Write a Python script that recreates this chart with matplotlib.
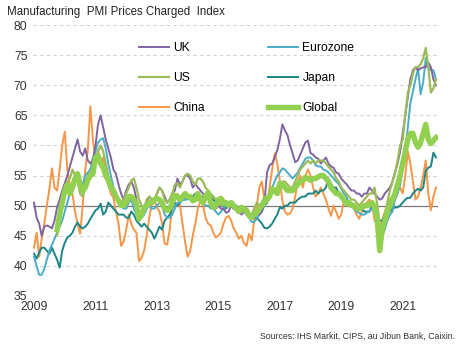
import numpy as np
import matplotlib
matplotlib.use('Agg')
import matplotlib.pyplot as plt

plt.rcParams['font.family'] = ['Liberation Sans', 'DejaVu Sans']

nan = np.nan

# monthly values, Jan 2009 .. Feb 2022
uk = [50.5, 48, 47, 45, 46.5, 46.7, 46.5, 46.2, 47.5, 49.7, 51, 52.5,
      53.7, 55, 56.5, 58, 59.5, 61, 59, 58.3, 59.5, 57.5, 57, 57.5,
      60, 63.5, 65, 63, 61, 59.5, 58, 56, 55.3, 53.5, 52, 51,
      52.5, 53.5, 54, 53, 51, 49, 48.5, 49, 50.5, 51.5, 51, 51,
      52, 53, 52.5, 51.5, 50.5, 51, 52, 52.5, 54.5, 53.5, 54, 55,
      55, 54.5, 53, 53.6, 53, 52.5, 52, 51.5, 51.3, 50.5, 49.5, 49.5,
      50, 49.5, 49.5, 48.8, 49, 50, 49.5, 50, 49.5, 48.5, 49, 49,
      48.5, 48, 48, 48.5, 48.5, 49, 50.5, 55.5, 56.7, 57, 58, 59.2,
      61, 63.5, 62.5, 61.7, 60, 58.7, 57.2, 57.5, 58.5, 59.5, 60.5, 60.8,
      58.7, 58.5, 58, 57.8, 57, 57.5, 58, 57, 56.5, 56.3, 55.5, 55.3,
      54.5, 54, 53.6, 53, 52.5, 52.5, 52, 52, 51.5, 52, 52, 53,
      52.5, 52, 51.5, 51, 51.2, 52, 52.5, 53, 54, 55.5, 57, 59,
      62, 65, 68, 71, 72.5, 73, 72.5, 72.8, 73, 73, 73.8, 73,
      71, 70]

eurozone = [41.5, 40, 38.5, 38.5, 39.5, 41, 42.5, 43.5, 44.5, 45.5, 46.5, 47.5,
            49, 50.5, 52, 53.7, 54.5, 55.3, 54, 53.5, 55, 55.5, 56, 58,
            59, 60.5, 61, 61.2, 59.5, 57, 55, 53, 52, 50.5, 50, 49.5,
            49.5, 50.5, 51, 49.5, 48.5, 47.5, 48, 48.5, 49.5, 50, 49.5, 49.5,
            50, 50.5, 50, 48.5, 48, 48, 48.5, 49.5, 50.5, 50.5, 51, 51,
            51, 51.5, 51, 51.5, 51, 51, 50.5, 50, 50, 49.5, 49.5, 49,
            48.5, 49, 49.5, 50.5, 50.5, 50, 49.5, 49.5, 49.5, 49, 49, 48.5,
            48, 47.3, 47.3, 47.8, 48.5, 49, 50, 50.5, 52, 53, 54, 55,
            55.5, 56.2, 56, 55.5, 55, 54.5, 55, 55.5, 56.3, 57, 57.8, 58,
            58, 57.5, 56.7, 56.5, 56.5, 56, 55.8, 55.5, 55, 54.5, 54, 53.6,
            52.8, 52, 51.5, 50.5, 50, 49.5, 49, 48.8, 48.5, 48.5, 48.8, 49,
            49.5, 49, 47.5, 45.5, 45, 46, 47.5, 48.5, 49, 51, 52, 53.5,
            56, 59, 63, 67, 69, 71, 72.8, 68.5, 70.5, 74.5, 73, 72.5,
            72.5, 71]

us = [nan, nan, nan, nan, nan, nan, nan, nan, nan, 45, 48, 51,
      53, 54, 54.5, 56, 55, 54, 52, 51.5, 53, 55, 55.5, 56,
      57, 59, 60, 59, 57, 55, 53.5, 52.5, 51.5, 51, 50.5, 51,
      52, 53, 54.2, 54.5, 53, 51, 50, 49.5, 51, 51.5, 51, 51,
      52, 53, 52.5, 51, 50.5, 51, 52, 53.5, 53.7, 53, 54, 55,
      55.3, 55, 54, 53.5, 54.5, 54.5, 54, 53, 52.5, 52, 51.5, 51,
      50.5, 50, 50.5, 50, 50, 50.5, 50, 49.5, 49.5, 49, 49, 49,
      48.5, 48.5, 49.5, 50.5, 50, 50.5, 51.5, 51.5, 52, 52.5, 52.5, 53,
      53.5, 54, 54, 53.5, 53, 53, 54, 55, 56, 56.5, 57, 57.5,
      57, 57.5, 57, 57.5, 57.5, 57.5, 57, 56.5, 56, 55.5, 54.5, 54,
      53, 52.5, 52, 51.5, 51, 51, 50.5, 50, 50.5, 51, 51.5, 52,
      52, 53, 50.3, 47, 46.5, 48, 50.5, 52.5, 54, 55.5, 57.5, 60,
      61, 65, 68.8, 70, 72, 73, 73, 73.5, 74.5, 76.2, 73, 68.8,
      69.5, 71]

japan = [42, 41.2, 42.2, 43, 43, 42.5, 42, 43, 42, 41, 39.7, 42.5,
         43.8, 44.7, 45, 45.5, 46.5, 47.2, 46.5, 46.2, 46.5, 47, 47.8, 48.5,
         49.2, 49.5, 50.3, 48.5, 49, 50.5, 50, 49.5, 49, 48.5, 48.5, 48.5,
         48, 48, 49, 48.5, 47.5, 47, 46.5, 47, 46.5, 46, 45.5, 44.5,
         45.5, 46.5, 46, 47.5, 48, 48.5, 49.5, 50.5, 50, 50.5, 51, 51,
         51.5, 51, 51.5, 52, 51, 51.5, 51.5, 51, 51.5, 51.5, 51, 50.5,
         50.5, 50, 50.5, 49.5, 50, 50, 49.5, 50, 49.5, 49.5, 49.5, 49,
         48.5, 48, 48, 48, 47.5, 47, 46.3, 46.2, 46.5, 47, 47.8, 48.5,
         49.7, 49.5, 50, 50, 50.5, 50.5, 50.5, 51, 51.3, 51.5, 51.5, 52,
         52, 52, 52.5, 52, 52.5, 52.5, 53, 54.5, 53.5, 53, 53, 52,
         51.5, 51, 51, 50.5, 50.5, 49.5, 49.5, 49.5, 49.5, 49, 49, 49,
         50, 49.5, 48.5, 47.5, 47.5, 48.5, 49, 49, 49.5, 49.7, 49.7, 50,
         50.5, 51, 51.3, 51.3, 52, 52.5, 52.8, 52.5, 53, 55.8, 56.3, 56.5,
         58.8, 58]

china = [43, 45.5, 41.5, 44.5, 47, 50, 52.8, 56.2, 53, 52.5, 56, 60,
         62.3, 56, 53.5, 52, 49, 47, 45.3, 50, 56, 59.2, 66.5, 61,
         57.5, 59.2, 56.7, 58, 55.8, 53.6, 52, 51.3, 49, 47, 43.3, 44,
         46, 48.5, 47, 46, 45.5, 40.8, 41.3, 42.5, 45, 48, 50.3, 51,
         49.7, 49, 47, 43.7, 43.5, 46, 50, 51, 52, 50, 47, 44,
         41.5, 42.5, 45, 47, 49.5, 50.8, 50, 48, 47, 46.7, 45.5, 44.7,
         45, 45.5, 47, 48, 48.3, 47.5, 46.2, 45.5, 44.5, 45, 43.8, 43.3,
         45.3, 44.2, 47.5, 50, 53, 54, 50.8, 50.3, 53, 56, 58.7, 57,
         54.2, 50.8, 49, 48.5, 48.7, 49.5, 51.5, 54, 55, 53, 55, 56,
         55, 53, 51.5, 52, 53, 52, 51, 49.5, 48.3, 50, 49, 47.8,
         48.5, 50.8, 51, 50.3, 50, 49.5, 48.5, 47.8, 49, 49.7, 50.5, 51,
         50.5, 47.5, 47, 45.5, 47.5, 49, 50, 51, 51.5, 51, 52.5, 53,
         52, 55, 59, 57, 54, 51, 51.5, 53, 55, 57.5, 52, 49.2,
         51.5, 53]

global_ = [nan, nan, nan, nan, nan, nan, nan, nan, nan, 46, 48.5, 50.5,
           52.5, 53.5, 52, 53, 54.5, 55.3, 53.5, 52.5, 53, 54.2, 55, 55.3,
           58, 58.3, 57, 56.3, 55, 54.2, 53, 52.5, 51.5, 50.8, 50, 50,
           50.5, 51.5, 51.5, 51, 50.3, 47.8, 48.5, 49.7, 50, 50.5, 50.5, 51,
           51.2, 51, 50.5, 49.5, 49.2, 49.5, 50.5, 51.7, 51.5, 51, 51.5, 52,
           51.5, 51.5, 50.8, 51, 52, 51, 50.5, 51.5, 52.2, 50.5, 49.7, 50,
           51, 51.2, 50.5, 50.5, 50, 50.5, 50, 49.5, 49, 49.7, 49.5, 49.2,
           48.3, 48, 48.5, 48.8, 49.5, 50, 50.8, 51, 51.5, 52.8, 52.5, 52,
           53.7, 53.5, 53, 52.5, 52.5, 52.5, 53, 53.5, 54, 54.2, 54.7, 54.5,
           54.2, 54.5, 54.5, 54.8, 55, 55, 54.5, 54, 53, 52.5, 52, 52,
           51.5, 51, 50.3, 50.5, 50, 50, 49.5, 49.5, 49.7, 50, 50, 50.2,
           50.5, 49.7, 48, 42.5, 46, 47.5, 49, 50, 51, 52, 53.5, 55,
           57, 59, 61, 62, 62, 60.5, 59.7, 60.5, 62, 63.5, 61, 60.3,
           60.8, 61.3]

year_labels = ['2009', '2011', '2013', '2015', '2017', '2019', '2021']

months = np.arange(len(uk))

fig = plt.figure(figsize=(4.65, 3.44), dpi=100)
ax = fig.add_axes([0.071, 0.140, 0.871, 0.787])

# grid
for v in range(35, 81, 5):
    if v == 50:
        continue
    ax.axhline(v, color='#d2d2d2', lw=0.8, ls=(0, (3, 3)), zorder=0)
ax.axhline(50, color='#7a7a7a', lw=0.9, zorder=1)

l_china, = ax.plot(months, china, color='#f79646', lw=1.4, label='China', zorder=2)
l_japan, = ax.plot(months, japan, color='#1c8585', lw=1.4, label='Japan', zorder=3)
l_ez, = ax.plot(months, eurozone, color='#4bacc6', lw=1.4, label='Eurozone', zorder=3)
l_uk, = ax.plot(months, uk, color='#8064a2', lw=1.4, label='UK', zorder=3)
l_us, = ax.plot(months, us, color='#9bbb59', lw=1.6, label='US', zorder=4)
l_gl, = ax.plot(months, global_, color='#92d050', lw=3.9, label='Global', zorder=5)

ax.set_xlim(-0.4, 157.8)
ax.set_ylim(35, 80)
ax.set_yticks(range(35, 81, 5))
ax.set_xticks(np.arange(0, len(uk), 24))
ax.set_xticklabels(year_labels)
ax.tick_params(length=0, labelsize=8.7, colors='#333333', pad=4)
for s in ax.spines.values():
    s.set_visible(False)

ax.legend(handles=[l_uk, l_us, l_china, l_ez, l_japan, l_gl], ncol=2,
          loc='upper left', bbox_to_anchor=(0.262, 0.938), frameon=False,
          fontsize=8.7, handlelength=2.5, handletextpad=0.35,
          labelspacing=1.5, columnspacing=5.2, borderpad=0, borderaxespad=0)

fig.text(0.015, 0.965, 'Manufacturing  PMI Prices Charged  Index',
         fontsize=8.3, color='#222222', va='center', ha='left')
fig.text(0.978, 0.022, 'Sources: IHS Markit, CIPS, au Jibun Bank, Caixin.',
         fontsize=6.3, color='#333333', ha='right', va='center')

fig.savefig('out.png', dpi=100)
